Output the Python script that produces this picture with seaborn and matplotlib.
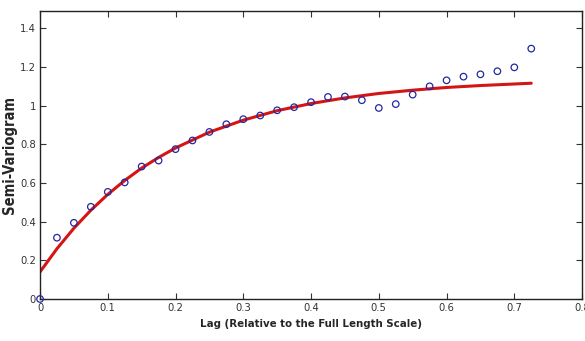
import matplotlib
matplotlib.use("Agg")
import matplotlib.pyplot as plt
import seaborn as sns
import pandas as pd

# ---- data ----
lag = [0.0, 0.025, 0.05, 0.075, 0.1, 0.125, 0.15, 0.175, 0.2, 0.225,
       0.25, 0.275, 0.3, 0.325, 0.35, 0.375, 0.4, 0.425, 0.45, 0.475,
       0.5, 0.525, 0.55, 0.575, 0.6, 0.625, 0.65, 0.675, 0.7, 0.725]
semivar = [0.0, 0.317, 0.394, 0.477, 0.554, 0.603, 0.685, 0.716, 0.775, 0.820,
           0.864, 0.904, 0.930, 0.949, 0.976, 0.992, 1.018, 1.045, 1.047, 1.028,
           0.988, 1.008, 1.057, 1.100, 1.131, 1.150, 1.162, 1.178, 1.198, 1.295]

fit_lag = [0.0, 0.025, 0.05, 0.075, 0.1, 0.125, 0.15, 0.175, 0.2, 0.25,
           0.3, 0.35, 0.4, 0.45, 0.5, 0.55, 0.6, 0.65, 0.7, 0.725]
fit_val = [0.14, 0.26, 0.366, 0.459, 0.541, 0.613, 0.677, 0.732, 0.781, 0.863,
           0.925, 0.974, 1.011, 1.040, 1.063, 1.080, 1.094, 1.104, 1.112, 1.116]

x_ticks = [0, 0.1, 0.2, 0.3, 0.4, 0.5, 0.6, 0.7, 0.8]
x_tick_labels = ["0", "0.1", "0.2", "0.3", "0.4", "0.5", "0.6", "0.7", "0.8"]
y_ticks = [0, 0.2, 0.4, 0.6, 0.8, 1.0, 1.2, 1.4]
y_tick_labels = ["0", "0.2", "0.4", "0.6", "0.8", "1", "1.2", "1.4"]

x_label = "Lag (Relative to the Full Length Scale)"
y_label = "Semi-Variogram"

pts = pd.DataFrame({"lag": lag, "semivar": semivar})
fit = pd.DataFrame({"lag": fit_lag, "fit": fit_val})

sns.set_style("ticks")
plt.rcParams["font.family"] = ["DejaVu Sans"]
plt.rcParams["font.stretch"] = "condensed"

fig = plt.figure(figsize=(5.85, 3.41), dpi=100)
ax = fig.add_axes([0.0684, 0.1232, 0.9266, 0.8448])

sns.lineplot(data=fit, x="lag", y="fit", ax=ax, color="#d41515", linewidth=2.2,
             zorder=2)
sns.scatterplot(data=pts, x="lag", y="semivar", ax=ax, marker="o",
                facecolor="none", edgecolor="#2228a0", linewidth=0.9, s=22,
                zorder=3, clip_on=False)

ax.set_xlim(0, 0.8)
ax.set_ylim(0, 1.49)
ax.set_xticks(x_ticks)
ax.set_xticklabels(x_tick_labels)
ax.set_yticks(y_ticks)
ax.set_yticklabels(y_tick_labels)
ax.tick_params(direction="in", top=True, right=True, length=4, width=0.8,
               labelsize=8, pad=3, colors="#333333")
for s in ax.spines.values():
    s.set_visible(True)
    s.set_linewidth(1.0)
    s.set_color("#222222")

ax.set_xlabel(x_label, fontsize=8.2, fontweight="bold", labelpad=4,
              fontstretch="condensed")
ax.set_ylabel(y_label, fontsize=10.5, fontweight="bold", labelpad=2,
              fontstretch="condensed")

fig.savefig("out.png", dpi=100)
